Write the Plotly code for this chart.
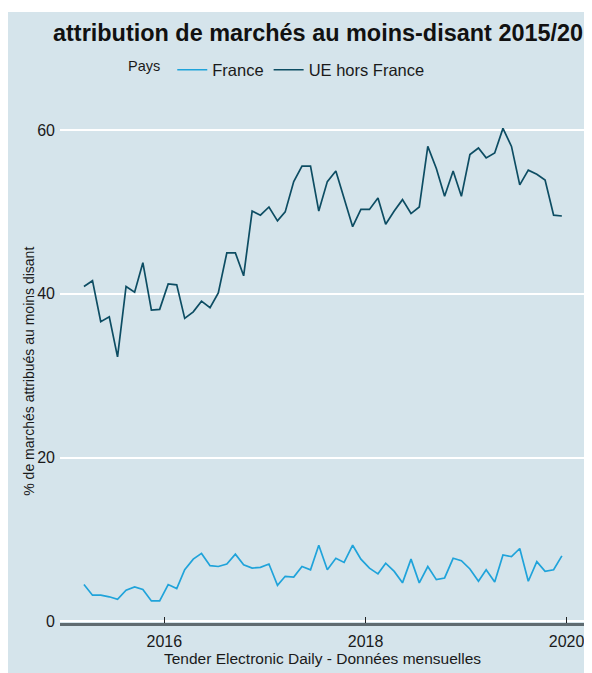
import pandas as pd
import plotly.graph_objects as go

# Monthly observations, March 2015 .. December 2019 (plotted mid-month)
months = (pd.date_range("2015-03-01", "2019-12-01", freq="MS") + pd.Timedelta(days=14))

france = [4.5, 3.2, 3.2, 3.0, 2.7, 3.8, 4.2, 3.9, 2.5, 2.5,
          4.5, 4.0, 6.3, 7.6, 8.3, 6.8, 6.7, 7.0, 8.2, 6.9,
          6.5, 6.6, 7.0, 4.4, 5.5, 5.4, 6.7, 6.3, 9.3, 6.3,
          7.7, 7.2, 9.3, 7.6, 6.5, 5.8, 7.1, 6.1, 4.7, 7.6,
          4.7, 6.7, 5.1, 5.3, 7.7, 7.4, 6.4, 4.9, 6.3, 4.8,
          8.1, 7.9, 8.9, 4.9, 7.3, 6.1, 6.3, 8.0]

ue_hors_france = [40.9, 41.6, 36.6, 37.2, 32.3, 40.9, 40.2, 43.8, 38.0, 38.1,
                  41.2, 41.1, 37.0, 37.8, 39.1, 38.3, 40.1, 45.0, 45.0, 42.2,
                  50.1, 49.6, 50.6, 48.9, 50.0, 53.7, 55.6, 55.6, 50.1, 53.7,
                  55.0, 51.7, 48.2, 50.3, 50.3, 51.7, 48.5, 50.1, 51.5, 49.8,
                  50.6, 58.0, 55.3, 51.9, 55.0, 51.9, 57.0, 57.8, 56.6, 57.2,
                  60.2, 58.0, 53.3, 55.1, 54.6, 53.9, 49.6, 49.5]

series_names = ["France", "UE hors France"]
series_colors = ["#1fa3da", "#0d4d63"]

x_tick_vals = ["2016-01-01", "2018-01-01", "2020-01-01"]
x_tick_text = ["2016", "2018", "2020"]
y_tick_vals = [0, 20, 40, 60]

title_text = "attribution de marchés au moins-disant 2015/20"
y_title = "% de marchés attribués au moins disant"
caption = "Tender Electronic Daily - Données mensuelles"

BG = "#d5e4eb"
FONT = "Liberation Sans, Arial, sans-serif"

# plot-area geometry (figure pixels)
L, R, T, B = 52, 577, 95, 615.5
PW, PH = R - L, B - T


def px(xpix):
    return (xpix - L) / PW


def py(ypix):
    return (B - ypix) / PH


fig = go.Figure()
for name, vals, col in zip(series_names, [france, ue_hors_france], series_colors):
    fig.add_trace(go.Scatter(x=months, y=vals, mode="lines", name=name,
                             line=dict(color=col, width=1.7)))

fig.update_layout(
    width=592, height=673,
    margin=dict(l=L, r=592 - R, t=T, b=673 - B, autoexpand=False),
    paper_bgcolor=BG, plot_bgcolor=BG,
    font=dict(family=FONT, color="#1a1a1a"),
    title=dict(text="<b>" + title_text + "</b>", font=dict(size=23.45, color="#111"),
               x=45 / 592, xanchor="left", xref="container",
               y=1 - 25 / 673, yanchor="middle", yref="container"),
    showlegend=True,
    legend=dict(orientation="h", title=dict(text="Pays ", font=dict(size=14.5)),
                font=dict(size=16.5), xref="container", yref="container",
                x=270 / 592, xanchor="center", y=1 - 62 / 673, yanchor="middle",
                bgcolor="rgba(0,0,0,0)"),
    xaxis=dict(type="date", range=["2014-12-18", "2020-03-08"],
               tickvals=x_tick_vals, ticktext=x_tick_text,
               ticks="inside", ticklen=6, tickwidth=1.2, tickcolor="#222",
               showgrid=False, zeroline=False,
               showline=True, linecolor="#5f6b70", linewidth=2.5,
               tickfont=dict(size=16), ticklabelstandoff=2),
    yaxis=dict(range=[-0.2, 63.3], tickvals=y_tick_vals,
               showgrid=True, gridcolor="white", gridwidth=2,
               zeroline=False, showline=False, ticks="",
               tickfont=dict(size=16), ticklabelstandoff=4),
    shapes=[
        dict(type="rect", xref="paper", yref="paper", layer="above",
             x0=px(-10), x1=px(610), y0=py(4), y1=py(-10),
             fillcolor="white", line=dict(width=0)),
    ],
    annotations=[
        dict(text=y_title, textangle=-90, xref="paper", yref="paper",
             x=px(21), y=py(364), showarrow=False,
             font=dict(size=14), xanchor="center", yanchor="middle"),
        dict(text=caption, xref="paper", yref="paper",
             x=px(314.5), y=py(651), showarrow=False,
             font=dict(size=15.5), xanchor="center", yanchor="middle"),
    ],
)

fig.write_html("out.html")
